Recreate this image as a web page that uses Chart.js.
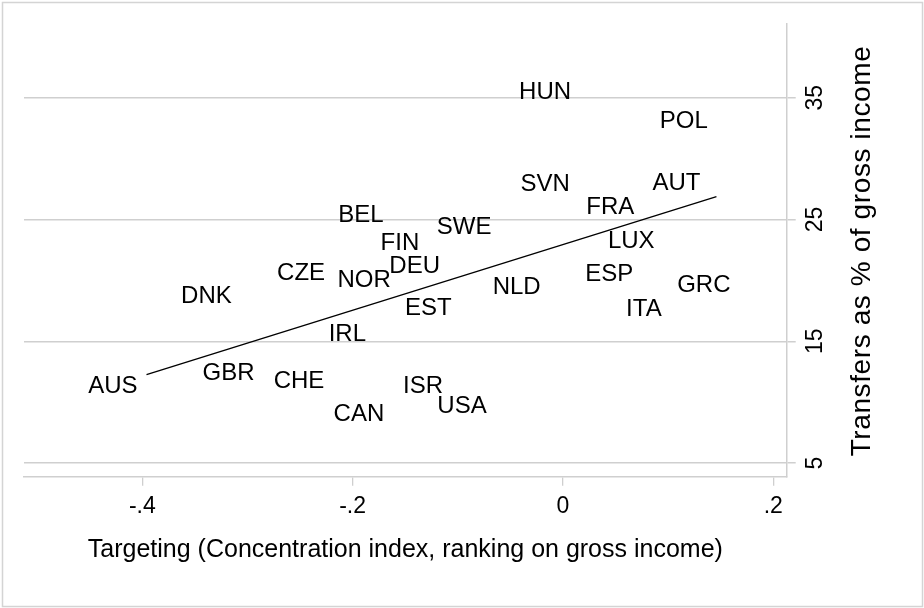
<!DOCTYPE html>
<html><head><meta charset="utf-8">
<script src="https://cdn.jsdelivr.net/npm/chart.js@4"></script>
<style>
html,body{margin:0;padding:0;background:#fff;}
canvas{display:block;}
</style></head><body>
<canvas id="c" width="924" height="608"></canvas>
<script>
const countries = ['AUS','GBR','CHE','CAN','ISR','USA','DNK','CZE','NOR','DEU','FIN','BEL','SWE','EST','IRL','HUN','POL','SVN','AUT','FRA','LUX','ESP','NLD','GRC','ITA'];
const targeting = [-0.428,-0.318,-0.251,-0.194,-0.133,-0.096,-0.339,-0.249,-0.189,-0.141,-0.155,-0.192,-0.094,-0.128,-0.205,-0.017,0.115,-0.017,0.108,0.045,0.065,0.044,-0.044,0.134,0.077];
const transfers = [11.35,12.46,11.76,9.11,11.35,9.71,18.80,20.69,20.12,21.27,23.09,25.43,24.47,17.82,15.68,35.53,33.14,27.99,28.02,26.09,23.31,20.61,19.50,19.69,17.70];
const fitX = [-0.396, 0.146];
const fitY = [12.26, 26.88];
const xTicks = [-0.4, -0.2, 0, 0.2];
const xTickLabels = ['-.4', '-.2', '0', '.2'];
const yTicks = [5, 15, 25, 35];
const yTickLabels = ['5', '15', '25', '35'];
const xTitle = 'Targeting (Concentration index, ranking on gross income)';
const yTitle = 'Transfers as % of gross income';

const FONT = '"Liberation Sans", Arial, Helvetica, sans-serif';
const GRID = '#cfcfcf';

const framePlugin = {
  id: 'frame',
  beforeDraw(chart) {
    const ctx = chart.ctx;
    ctx.save();
    ctx.fillStyle = '#fff';
    ctx.fillRect(0, 0, chart.width, chart.height);
    ctx.strokeStyle = '#d4d4d4';
    ctx.lineWidth = 1.5;
    ctx.strokeRect(2.5, 2.5, chart.width - 4, chart.height - 4);
    ctx.restore();
  }
};

const labelPlugin = {
  id: 'pointLabels',
  afterDatasetsDraw(chart) {
    const ctx = chart.ctx;
    const meta = chart.getDatasetMeta(0);
    ctx.save();
    ctx.fillStyle = '#000';
    ctx.font = '24px ' + FONT;
    ctx.textAlign = 'center';
    ctx.textBaseline = 'middle';
    meta.data.forEach((el, i) => {
      ctx.fillText(countries[i], el.x, el.y + 1);
    });
    ctx.restore();
  }
};

const yAxisTextPlugin = {
  id: 'yAxisText',
  afterDraw(chart) {
    const ctx = chart.ctx;
    const ys = chart.scales.y;
    ctx.save();
    ctx.fillStyle = '#000';
    ctx.textAlign = 'center';
    ctx.textBaseline = 'middle';
    ctx.font = '23px ' + FONT;
    yTicks.forEach((v, i) => {
      const py = ys.getPixelForValue(v);
      ctx.save();
      ctx.translate(815, py);
      ctx.rotate(-Math.PI / 2);
      ctx.fillText(yTickLabels[i], 0, 1);
      ctx.restore();
    });
    ctx.font = '28px ' + FONT;
    try { ctx.letterSpacing = '0.6px'; } catch (e) {}
    ctx.save();
    ctx.translate(862, 251);
    ctx.rotate(-Math.PI / 2);
    ctx.fillText(yTitle, 0, 0);
    ctx.restore();
    try { ctx.letterSpacing = '0px'; } catch (e) {}
    ctx.restore();
  }
};

new Chart(document.getElementById('c'), {
  type: 'scatter',
  data: {
    datasets: [
      {
        label: 'countries',
        data: countries.map((c, i) => ({x: targeting[i], y: transfers[i]})),
        pointRadius: 0,
        pointHoverRadius: 0,
        showLine: false
      },
      {
        label: 'fit',
        type: 'line',
        data: fitX.map((x, i) => ({x: x, y: fitY[i]})),
        borderColor: '#000',
        borderWidth: 1.3,
        pointRadius: 0,
        fill: false,
        tension: 0
      }
    ]
  },
  options: {
    responsive: false,
    animation: false,
    devicePixelRatio: 1,
    layout: {padding: {left: 24, top: 24, right: 0, bottom: 0}},
    plugins: {legend: {display: false}, tooltip: {enabled: false}},
    scales: {
      x: {
        type: 'linear',
        min: -0.5125,
        max: 0.2128,
        afterBuildTicks: s => { s.ticks = xTicks.map(v => ({value: v})); },
        afterFit: s => { s.height = 131.3; },
        grid: {drawOnChartArea: false, drawTicks: true, tickLength: 9, color: GRID, lineWidth: 1.3},
        border: {display: true, color: GRID, width: 1.5},
        ticks: {
          color: '#000',
          font: {family: FONT, size: 23},
          padding: 7,
          maxRotation: 0,
          callback: (v, i) => xTickLabels[i]
        },
        title: {
          display: true,
          text: xTitle,
          color: '#000',
          font: {family: FONT, size: 25},
          padding: {top: 0, bottom: 43}
        }
      },
      y: {
        type: 'linear',
        position: 'right',
        min: 3.88,
        max: 41.05,
        afterBuildTicks: s => { s.ticks = yTicks.map(v => ({value: v})); },
        afterFit: s => { s.width = 137.3; },
        grid: {drawOnChartArea: true, drawTicks: true, tickLength: 9, color: GRID, lineWidth: 1.5},
        border: {display: true, color: GRID, width: 1.5},
        ticks: {display: false}
      }
    }
  },
  plugins: [framePlugin, labelPlugin, yAxisTextPlugin]
});
</script>
</body></html>
